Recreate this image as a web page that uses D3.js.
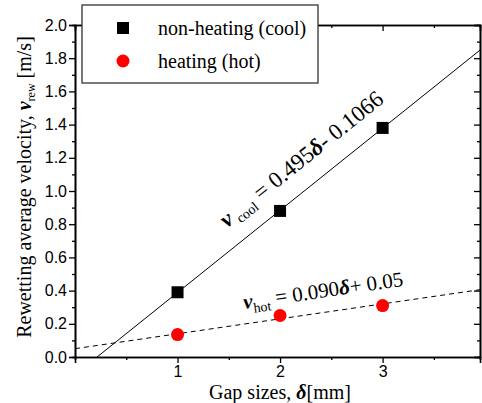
<!DOCTYPE html>
<html>
<head>
<meta charset="utf-8">
<script src="https://cdn.jsdelivr.net/npm/d3@7"></script>
<style>
  body { margin: 0; background: #fff; }
  svg { display: block; }
</style>
</head>
<body>
<div id="chart"></div>
<script>
// data
var gaps = [1, 2, 3];
var coolValues = [0.39, 0.88, 1.38];
var hotValues = [0.135, 0.25, 0.31];
var coolFit = [0.495, -0.1066];   // slope, intercept
var hotFit = [0.090, 0.05];
var xTicks = [1, 2, 3];
var yTicks = [0, 0.2, 0.4, 0.6, 0.8, 1.0, 1.2, 1.4, 1.6, 1.8, 2.0];
var legendLabels = ["non-heating (cool)", "heating (hot)"];

drawchart()

function drawchart() {
	var W = 482, H = 403;
	var margin = { top: 25, right: 2, bottom: 46, left: 75 };

	var svg = d3.select("#chart")
		.append("svg")
		.attr("width", W)
		.attr("height", H);

	var x = d3.scaleLinear().domain([0, 3.95]).range([margin.left, W - margin.right]);
	var y = d3.scaleLinear().domain([0, 2.0]).range([H - margin.bottom, margin.top]);

	var sans = "Liberation Sans, Arial, sans-serif";
	var serif = "Liberation Serif, Times New Roman, serif";

	// clip for the fit lines
	svg.append("clipPath").attr("id", "plotclip")
		.append("rect")
		.attr("x", x(0)).attr("y", y(2))
		.attr("width", x(3.95) - x(0)).attr("height", y(0) - y(2));

	var x0 = x.domain()[0], x1 = x.domain()[1];

	// fit lines
	var plot = svg.append("g").attr("clip-path", "url(#plotclip)");
	plot.append("line")
		.attr("x1", x(x0)).attr("y1", y(coolFit[0] * x0 + coolFit[1]))
		.attr("x2", x(x1)).attr("y2", y(coolFit[0] * x1 + coolFit[1]))
		.attr("stroke", "#000").attr("stroke-width", 1);
	plot.append("line")
		.attr("x1", x(x0)).attr("y1", y(hotFit[0] * x0 + hotFit[1]))
		.attr("x2", x(x1)).attr("y2", y(hotFit[0] * x1 + hotFit[1]))
		.attr("stroke", "#000").attr("stroke-width", 1)
		.attr("stroke-dasharray", "5,4");

	// axes: bottom/left outward with labels, top/right inward mirrors
	svg.append("g")
		.attr("transform", `translate(0,${y(0)})`)
		.call(d3.axisBottom(x).tickValues(xTicks).tickSize(6).tickPadding(3).tickFormat(d3.format("d")));
	svg.append("g")
		.attr("transform", `translate(0,${y(0)})`)
		.call(d3.axisBottom(x).tickValues([0.5, 1.5, 2.5, 3.5]).tickSize(3).tickFormat(""));

	svg.append("g")
		.attr("transform", `translate(${x(0)},0)`)
		.call(d3.axisLeft(y).tickValues(yTicks).tickSize(6).tickPadding(2).tickFormat(d3.format(".1f")));
	svg.append("g")
		.attr("transform", `translate(${x(0)},0)`)
		.call(d3.axisLeft(y).tickValues(d3.range(0.1, 2.0, 0.2)).tickSize(3).tickFormat(""));

	svg.append("g")
		.attr("transform", `translate(0,${y(2)})`)
		.call(d3.axisTop(x).tickValues(xTicks).tickSize(-6).tickFormat(""));
	svg.append("g")
		.attr("transform", `translate(0,${y(2)})`)
		.call(d3.axisTop(x).tickValues([0.5, 1.5, 2.5, 3.5]).tickSize(-3).tickFormat(""));
	svg.append("g")
		.attr("transform", `translate(${x(x1)},0)`)
		.call(d3.axisRight(y).tickValues(yTicks).tickSize(-6).tickFormat(""));
	svg.append("g")
		.attr("transform", `translate(${x(x1)},0)`)
		.call(d3.axisRight(y).tickValues(d3.range(0.1, 2.0, 0.2)).tickSize(-3).tickFormat(""));

	svg.selectAll(".domain").attr("stroke", "#000").attr("stroke-width", 1.6);
	svg.selectAll(".tick line").attr("stroke", "#000").attr("stroke-width", 1.3);
	svg.selectAll(".tick text")
		.style("font-family", sans)
		.style("font-size", "16px")
		.attr("fill", "#000");

	// data markers
	svg.selectAll(".cool")
		.data(gaps)
		.join("rect")
		.attr("class", "cool")
		.attr("x", (d) => x(d) - 6)
		.attr("y", (d, i) => y(coolValues[i]) - 6)
		.attr("width", 12).attr("height", 12)
		.attr("fill", "#000");
	svg.selectAll(".hot")
		.data(gaps)
		.join("circle")
		.attr("class", "hot")
		.attr("cx", (d) => x(d))
		.attr("cy", (d, i) => y(hotValues[i]))
		.attr("r", 6.5)
		.attr("fill", "#ff0000");

	// fit equations, rotated along their lines
	function slopeAngle(fit) {
		var dx = x(1) - x(0);
		var dy = y(fit[0]) - y(0);
		return Math.atan2(dy, dx) * 180 / Math.PI;
	}

	var coolAng = slopeAngle(coolFit);
	var cx0 = 1.6;
	var coolEq = svg.append("text")
		.attr("transform", `translate(${x(cx0) - 12},${y(coolFit[0] * cx0 + coolFit[1]) - 15}) rotate(${coolAng})`)
		.style("font-family", serif)
		.style("font-size", "23px");
	coolEq.append("tspan").text("v").style("font-weight", "bold").style("font-style", "italic");
	coolEq.append("tspan").text(" cool").attr("dy", 5).style("font-size", "14px");
	coolEq.append("tspan").text(" = 0.495").attr("dy", -5);
	coolEq.append("tspan").text("δ").style("font-weight", "bold").style("font-style", "italic");
	coolEq.append("tspan").text("- 0.1066");

	var hotAng = slopeAngle(hotFit);
	var hx0 = 1.65;
	var hotEq = svg.append("text")
		.attr("transform", `translate(${x(hx0)},${y(hotFit[0] * hx0 + hotFit[1]) - 15}) rotate(${hotAng})`)
		.style("font-family", serif)
		.style("font-size", "21px");
	hotEq.append("tspan").text("v").style("font-weight", "bold").style("font-style", "italic");
	hotEq.append("tspan").text("hot").attr("dy", 5).style("font-size", "14px");
	hotEq.append("tspan").text(" = 0.090").attr("dy", -5);
	hotEq.append("tspan").text("δ").style("font-weight", "bold").style("font-style", "italic");
	hotEq.append("tspan").text("+ 0.05");

	// legend
	var leg = svg.append("g").attr("transform", `translate(82,5)`);
	leg.append("rect")
		.attr("width", 236).attr("height", 78)
		.attr("fill", "#fff")
		.attr("stroke", "#333").attr("stroke-width", 1.3);
	leg.append("rect")
		.attr("x", 35).attr("y", 17).attr("width", 12).attr("height", 12)
		.attr("fill", "#000");
	leg.append("circle")
		.attr("cx", 41).attr("cy", 56).attr("r", 6.5)
		.attr("fill", "#ff0000");
	leg.selectAll(".legtext")
		.data(legendLabels)
		.join("text")
		.attr("class", "legtext")
		.attr("x", 76)
		.attr("y", (d, i) => 30 + i * 33)
		.style("font-family", serif)
		.style("font-size", "20px")
		.text((d) => d);

	// axis titles
	var xt = svg.append("text")
		.attr("x", 280).attr("y", 399)
		.attr("text-anchor", "middle")
		.style("font-family", serif)
		.style("font-size", "20px");
	xt.append("tspan").text("Gap sizes, ");
	xt.append("tspan").text("δ").style("font-weight", "bold").style("font-style", "italic");
	xt.append("tspan").text("[mm]");

	var yt = svg.append("text")
		.attr("transform", `translate(31,187) rotate(-90)`)
		.attr("text-anchor", "middle")
		.style("font-family", serif)
		.style("font-size", "20px");
	yt.append("tspan").text("Rewetting average velocity, ");
	yt.append("tspan").text("v").style("font-weight", "bold").style("font-style", "italic");
	yt.append("tspan").text("rew").attr("dy", 4).style("font-size", "12px");
	yt.append("tspan").text(" [m/s]").attr("dy", -4);
}
</script>
</body>
</html>
